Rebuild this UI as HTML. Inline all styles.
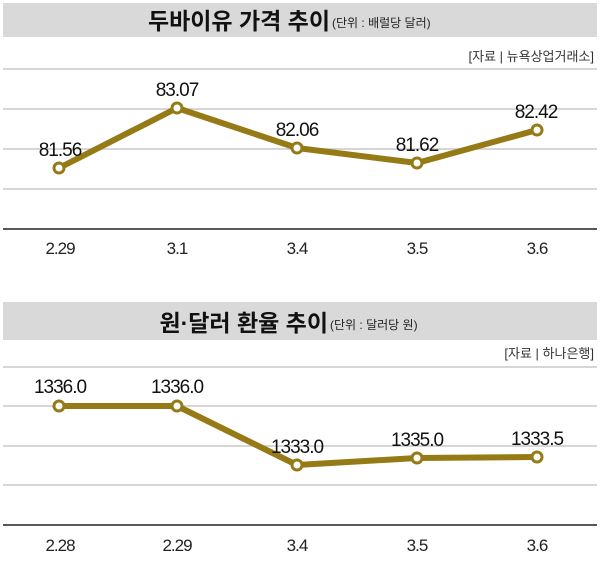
<!DOCTYPE html>
<html><head><meta charset="utf-8"><style>
body{margin:0;background:#fff;}
svg text{font-family:"Liberation Sans","Noto Sans CJK KR",sans-serif;}
</style></head><body>
<svg width="600" height="559" viewBox="0 0 600 559" xmlns="http://www.w3.org/2000/svg">
<rect x="3" y="3" width="594" height="34" fill="#d9d9d9"/>
<text x="330" y="29" text-anchor="end" font-size="23" font-weight="bold" fill="#111">두바이유 가격 추이</text>
<text x="332" y="27" font-size="12" fill="#222">(단위 : 배럴당 달러)</text>
<text x="594" y="61" text-anchor="end" font-size="13" fill="#333">[자료 | 뉴욕상업거래소]</text>
<g stroke="#c8c8c8" stroke-width="1.5">
<line x1="3" y1="69" x2="597" y2="69"/><line x1="3" y1="109" x2="597" y2="109"/>
<line x1="3" y1="149" x2="597" y2="149"/><line x1="3" y1="189" x2="597" y2="189"/>
</g>
<line x1="3" y1="229" x2="597" y2="229" stroke="#222" stroke-width="1.5"/>
<polyline points="59,168 177,108 297,148 417,163 537,130" fill="none" stroke="#957a16" stroke-width="6" stroke-linejoin="round"/>
<g fill="#fff" stroke="#957a16" stroke-width="3">
<circle cx="59" cy="168" r="5"/><circle cx="177" cy="108" r="5"/><circle cx="297" cy="148" r="5"/><circle cx="417" cy="163" r="5"/><circle cx="537" cy="130" r="5"/>
</g>
<g font-size="19" fill="#111" text-anchor="middle" letter-spacing="-1">
<text x="60" y="156">81.56</text><text x="177" y="96">83.07</text><text x="297" y="136">82.06</text><text x="417" y="151">81.62</text><text x="536" y="118">82.42</text>
</g>
<g font-size="17" fill="#222" text-anchor="middle" letter-spacing="-1">
<text x="60" y="254">2.29</text><text x="177" y="254">3.1</text><text x="297" y="254">3.4</text><text x="417" y="254">3.5</text><text x="537" y="254">3.6</text>
</g>

<rect x="3" y="302" width="594" height="38" fill="#d9d9d9"/>
<text x="328" y="331" text-anchor="end" font-size="23" font-weight="bold" fill="#111">원·달러 환율 추이</text>
<text x="330" y="329" font-size="12" fill="#222">(단위 : 달러당 원)</text>
<text x="594" y="358" text-anchor="end" font-size="13" fill="#333">[자료 | 하나은행]</text>
<g stroke="#c8c8c8" stroke-width="1.5">
<line x1="3" y1="367" x2="597" y2="367"/><line x1="3" y1="406" x2="597" y2="406"/>
<line x1="3" y1="446" x2="597" y2="446"/><line x1="3" y1="485" x2="597" y2="485"/>
</g>
<line x1="3" y1="525" x2="597" y2="525" stroke="#222" stroke-width="1.5"/>
<polyline points="59,406 177,406 297,465 417,458 537,457" fill="none" stroke="#957a16" stroke-width="6" stroke-linejoin="round"/>
<g fill="#fff" stroke="#957a16" stroke-width="3">
<circle cx="59" cy="406" r="5"/><circle cx="177" cy="406" r="5"/><circle cx="297" cy="465" r="5"/><circle cx="417" cy="458" r="5"/><circle cx="537" cy="457" r="5"/>
</g>
<g font-size="19" fill="#111" text-anchor="middle" letter-spacing="-1">
<text x="60" y="393">1336.0</text><text x="177" y="393">1336.0</text><text x="297" y="453">1333.0</text><text x="417" y="446">1335.0</text><text x="537" y="445">1333.5</text>
</g>
<g font-size="17" fill="#222" text-anchor="middle" letter-spacing="-1">
<text x="60" y="551">2.28</text><text x="177" y="551">2.29</text><text x="297" y="551">3.4</text><text x="417" y="551">3.5</text><text x="537" y="551">3.6</text>
</g>
</svg>
</body></html>
